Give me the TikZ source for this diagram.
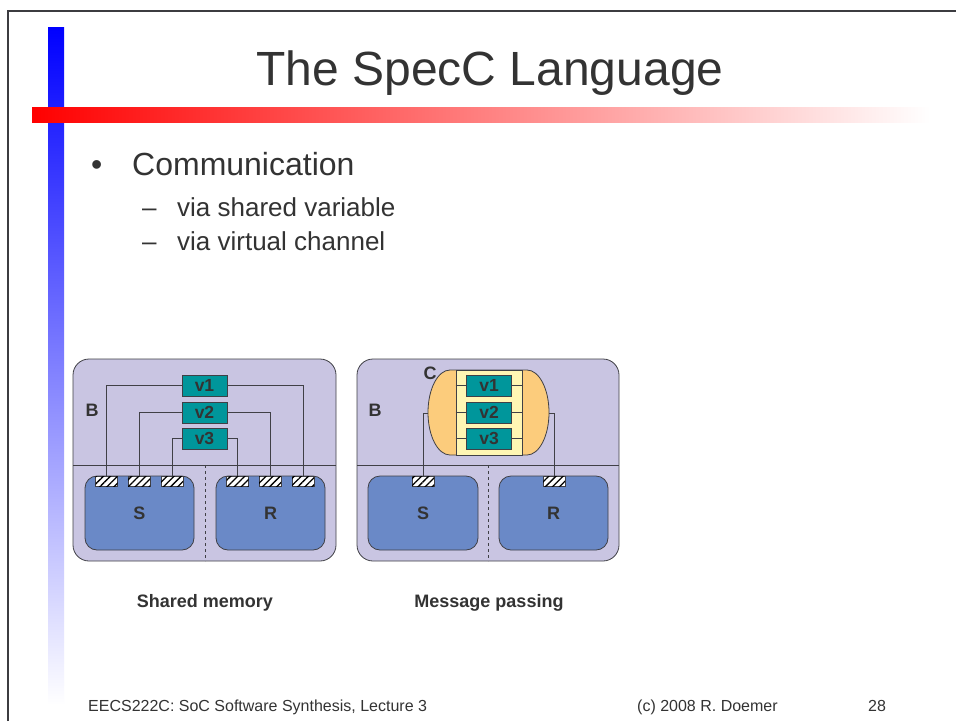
\documentclass[tikz,border=0pt]{standalone}
\usepackage{fontspec}
\setmainfont{Liberation Sans}
\usetikzlibrary{patterns.meta}
\definecolor{lavc}{RGB}{201,197,226}
\definecolor{sbluec}{RGB}{106,137,199}
\definecolor{tealc}{RGB}{0,150,155}
\definecolor{orangec}{RGB}{252,204,124}
\definecolor{yellowc}{RGB}{255,246,180}
\definecolor{edgec}{RGB}{64,64,70}
\definecolor{txtc}{RGB}{51,51,51}
\definecolor{framec}{RGB}{60,60,64}
\begin{document}
\begin{tikzpicture}[x=1pt,y=-1pt,
  outer/.style={draw=edgec, fill=lavc, rounded corners=16pt, line width=0.8pt, inner sep=0pt},
  subbox/.style={draw=edgec, fill=sbluec, rounded corners=12pt, line width=0.8pt, inner sep=0pt,
     minimum height=74pt, font=\fontsize{18}{18}\selectfont\bfseries, text=txtc},
  var/.style={draw=edgec, fill=tealc, minimum width=45pt, minimum height=21pt, inner sep=0pt,
     font=\fontsize{17.5}{17.5}\selectfont\bfseries, text=txtc, line width=0.8pt},
  port/.style={draw=edgec, fill=white, minimum width=22pt, minimum height=10pt, inner sep=0pt, line width=0.7pt,
     postaction={pattern={Lines[angle=45,distance=5pt,line width=1.3pt]}, pattern color=black}},
  wire/.style={draw=edgec, line width=0.7pt},
  lbl/.style={font=\fontsize{18}{18}\selectfont\bfseries, text=txtc, inner sep=0pt},
  bigtxt/.style={font=\fontsize{32}{32}\selectfont, text=txtc, inner sep=0pt, anchor=base west},
  subtxt/.style={font=\fontsize{26}{26}\selectfont, text=txtc, inner sep=0pt, anchor=base west},
  foot/.style={font=\fontsize{16}{16}\selectfont, text=txtc, inner sep=0pt, anchor=base west}
]
\useasboundingbox (0,0) rectangle (956,721);
\fill[white] (0,0) rectangle (956,721);

% slide decoration
\draw[framec, line width=2pt] (8,721) -- (8,11) -- (956,11);
\shade[top color=blue, middle color=blue!28, bottom color=white] (48,27) rectangle (64,705);
\shade[left color=red, middle color=red!30, right color=white] (32,107) rectangle (930,122);

% title and bullets
\node[font=\fontsize{48}{48}\selectfont, text=txtc, anchor=base, inner sep=0pt] (title) at (490,85) {The SpecC Language};
\node[bigtxt] (bul) at (91,175) {•};
\node[bigtxt] (comm) at (132,175) {Communication};
\node[subtxt] (d1) at (142,216) {–};
\node[subtxt] (t1) at (177,216) {via shared variable};
\node[subtxt] (d2) at (142,250) {–};
\node[subtxt] (t2) at (177,250) {via virtual channel};

% ---------- Shared memory ----------
\node[outer, minimum width=263pt, minimum height=202pt] (BA) at (204.5,460) {};
\draw[wire] (73,465) -- (336,465);
\draw[wire, dashed] (205,465) -- (205,561);
\node[lbl] (labBA) at (92,410) {B};
\node[subbox, minimum width=109pt] (SA) at (139.5,513) {S};
\node[subbox, minimum width=109pt] (RA) at (270.5,513) {R};
\node[var] (a1) at (204.5,385.5) {v1};
\node[var] (a2) at (204.5,412.5) {v2};
\node[var] (a3) at (204.5,438.5) {v3};
\node[port] (p1) at (106.5,481) {};
\node[port] (p2) at (139,481) {};
\node[port] (p3) at (172,481) {};
\node[port] (p4) at (237.5,481) {};
\node[port] (p5) at (270,481) {};
\node[port] (p6) at (303,481) {};
\draw[wire] (a1.west) -| (p1.north);
\draw[wire] (a1.east) -| (p6.north);
\draw[wire] (a2.west) -| (p2.north);
\draw[wire] (a2.east) -| (p5.north);
\draw[wire] (a3.west) -| (p3.north);
\draw[wire] (a3.east) -| (p4.north);
\node[lbl] (capA) at (205,603) {Shared memory};

% ---------- Message passing ----------
\node[outer, minimum width=262pt, minimum height=202pt] (BB) at (488,460) {};
\draw[wire] (357,465) -- (619,465);
\draw[wire, dashed] (488,465) -- (488,561);
\node[lbl] (labBB) at (375,410) {B};
\node[subbox, minimum width=110pt] (SB) at (423,513) {S};
\node[subbox, minimum width=109pt] (RB) at (553.5,513) {R};
\node[port] (q1) at (423,481) {};
\node[port] (q2) at (554,481) {};
% channel
\filldraw[draw=edgec, fill=orangec, line width=0.8pt]
  (450,370) -- (527,370) .. controls (539.15,370) and (549,389) .. (549,412.5)
  .. controls (549,436) and (539.15,455) .. (527,455) -- (450,455)
  .. controls (437.85,455) and (428,436) .. (428,412.5)
  .. controls (428,389) and (437.85,370) .. (450,370) -- cycle;
\coordinate (CL) at (428,413);
\coordinate (CR) at (549,413);
\node[draw=edgec, fill=yellowc, minimum width=66pt, minimum height=85pt, inner sep=0pt, line width=0.8pt] (Y) at (489,412.5) {};
\node[var] (b1) at (489,385.5) {v1};
\node[var] (b2) at (489,412.5) {v2};
\node[var] (b3) at (489,438.5) {v3};
\foreach \b in {b1,b2,b3}{
  \draw[wire] (\b.west -| Y.west) -- (\b.west);
  \draw[wire] (\b.east) -- (\b.east -| Y.east);
}
\node[lbl] (labC) at (430,373) {C};
\draw[wire] (CL) -| (q1.north);
\draw[wire] (CR) -| (q2.north);
\node[lbl] (capB) at (489,603) {Message passing};

% footer
\node[foot] (f1) at (88,711) {EECS222C: SoC Software Synthesis, Lecture 3};
\node[foot] (f2) at (637,711) {(c) 2008 R. Doemer};
\node[foot] (f3) at (868,711) {28};
\end{tikzpicture}
\end{document}
